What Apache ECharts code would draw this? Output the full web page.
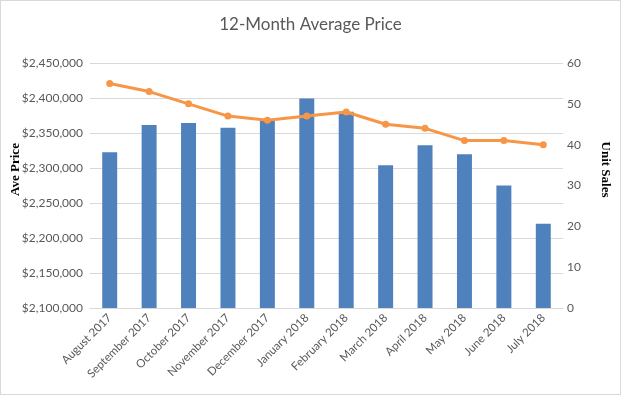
<!DOCTYPE html>
<html>
<head>
<meta charset="utf-8">
<script src="https://cdn.jsdelivr.net/npm/echarts@6/dist/echarts.min.js"></script>
<style>
  html, body { margin: 0; padding: 0; background: #fff; }
  #chart { width: 619px; height: 393px; border: 1px solid #d9d9d9; }
</style>
</head>
<body>
<div id="chart"></div>
<script>
var months = ['August 2017', 'September 2017', 'October 2017', 'November 2017', 'December 2017',
              'January 2018', 'February 2018', 'March 2018', 'April 2018', 'May 2018', 'June 2018', 'July 2018'];
var avePrice = [2322500, 2361300, 2364200, 2357500, 2369000, 2399200,
                2380500, 2303800, 2332600, 2319600, 2275000, 2220400];
var unitSales = [55, 53, 50, 47, 46, 47, 48, 45, 44, 41, 41, 40];

var textColor = '#595959';
var font = 'Lato, "Open Sans", sans-serif';
var nameFont = '"Liberation Serif", "DejaVu Serif", serif';

function money(v) {
    return '$' + v.toString().replace(/\B(?=(\d{3})+(?!\d))/g, ',');
}

var chart = echarts.init(document.getElementById('chart'));
chart.setOption({
    animation: false,
    title: {
        text: '12-Month Average Price',
        left: 'center',
        top: 10,
        textStyle: { fontFamily: font, fontSize: 17, fontWeight: 'normal', color: textColor }
    },
    grid: { left: 89, right: 57, top: 62, bottom: 86, outerBoundsMode: 'none', containLabel: false },
    xAxis: {
        type: 'category',
        data: months,
        axisLine: { lineStyle: { color: '#d9d9d9' } },
        axisTick: { show: false },
        axisLabel: { rotate: 45, interval: 0, color: textColor, fontFamily: font, fontSize: 11.5, margin: 8 }
    },
    yAxis: [{
        type: 'value',
        min: 2100000,
        max: 2450000,
        interval: 50000,
        name: 'Ave Price',
        nameLocation: 'middle',
        nameGap: 68,
        nameMoveOverlap: false,
        nameTextStyle: { fontFamily: nameFont, fontSize: 13, fontWeight: 'bold', color: '#000', padding: [0, 0, 0, 32] },
        axisLabel: { formatter: money, color: textColor, fontFamily: font, fontSize: 12, margin: 7 },
        axisLine: { show: false },
        axisTick: { show: false },
        splitLine: { lineStyle: { color: '#d9d9d9' } }
    }, {
        type: 'value',
        min: 0,
        max: 60,
        interval: 10,
        name: 'Unit Sales',
        nameLocation: 'middle',
        nameRotate: -90,
        nameGap: 36,
        nameMoveOverlap: false,
        nameTextStyle: { fontFamily: nameFont, fontSize: 13, fontWeight: 'bold', color: '#000', padding: [0, 32, 0, 0] },
        axisLabel: { color: textColor, fontFamily: font, fontSize: 12, margin: 4 },
        axisLine: { show: false },
        axisTick: { show: false },
        splitLine: { show: false }
    }],
    series: [{
        name: 'Ave Price',
        type: 'bar',
        data: avePrice,
        barWidth: '38%',
        itemStyle: { color: '#4f81bd' }
    }, {
        name: 'Unit Sales',
        type: 'line',
        yAxisIndex: 1,
        data: unitSales,
        symbol: 'circle',
        symbolSize: 7,
        lineStyle: { color: '#f79646', width: 3 },
        itemStyle: { color: '#f79646' }
    }]
});
</script>
</body>
</html>
